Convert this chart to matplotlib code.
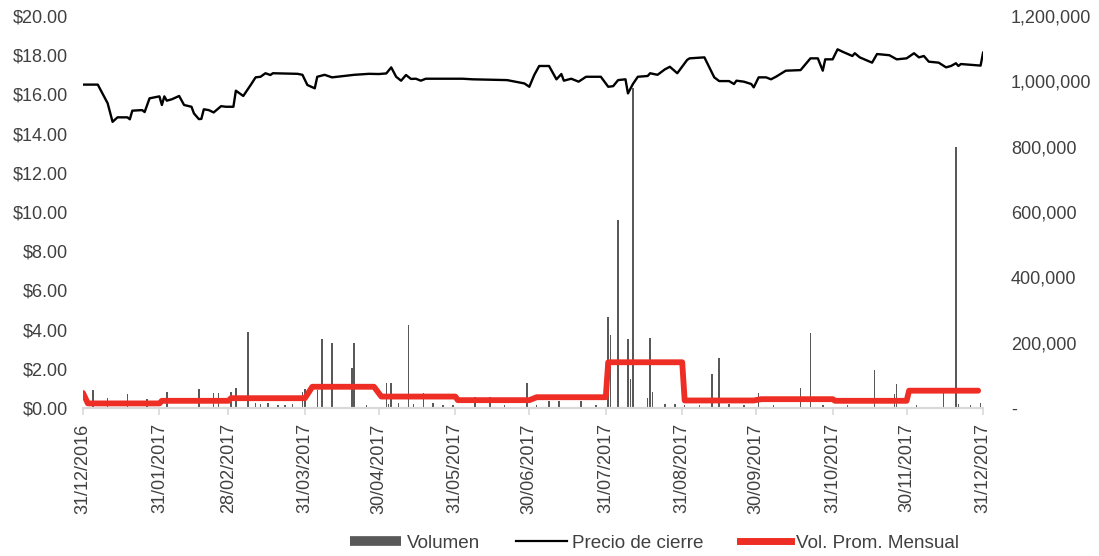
import matplotlib
matplotlib.use("Agg")
import matplotlib.pyplot as plt
import matplotlib.dates as mdates
from matplotlib.lines import Line2D
from matplotlib.ticker import FuncFormatter
import pandas as pd

plt.rcParams['font.family'] = ['Liberation Sans', 'DejaVu Sans']
plt.rcParams['font.size'] = 13

TEXT = '#404040'
AXIS_GREY = '#d9d9d9'
BAR_GREY = '#595959'
RED = '#ee2e24'

START = pd.Timestamp('2016-12-31')

# closing price, vertices of the line (days since 31/12/2016)
price_day = [0, 6, 10, 12, 14, 18, 19, 20, 24, 25, 27, 31, 32, 33, 34, 36, 39, 41,
             44, 45, 47, 48, 49, 51, 53, 56, 58, 61, 62, 65, 68, 70, 72, 74, 76, 77,
             87, 89, 91, 94, 95, 98, 101, 110, 116, 120, 123, 125, 127, 129, 131,
             133, 135, 137, 139, 154, 158, 172, 179, 181, 183, 185, 189, 192, 194,
             195, 198, 201, 204, 210, 213, 215, 217, 220, 221, 223, 225, 229, 230,
             233, 236, 238, 241, 245, 246, 252, 256, 258, 262, 264, 265, 268, 271,
             272, 274, 277, 279, 281, 285, 291, 295, 298, 300, 301, 304, 306, 308,
             312, 313, 315, 320, 322, 327, 330, 334, 337, 339, 341, 343, 347, 350,
             352, 354, 355, 356, 364, 365]
price = [16.50, 16.50, 15.55, 14.60, 14.83, 14.83, 14.73, 15.17, 15.20, 15.10, 15.80,
         15.90, 15.46, 15.90, 15.68, 15.75, 15.92, 15.46, 15.37, 15.03, 14.74, 14.75,
         15.24, 15.20, 15.08, 15.40, 15.37, 15.37, 16.19, 15.92, 16.48, 16.87, 16.90,
         17.08, 16.99, 17.08, 17.05, 17.00, 16.48, 16.31, 16.90, 17.00, 16.87, 17.00,
         17.05, 17.04, 17.07, 17.38, 16.90, 16.70, 16.99, 16.79, 16.80, 16.70, 16.80,
         16.80, 16.77, 16.73, 16.56, 16.39, 16.99, 17.45, 17.45, 16.77, 17.04, 16.70,
         16.80, 16.65, 16.90, 16.90, 16.39, 16.42, 16.73, 16.77, 16.05, 16.53, 16.90,
         16.94, 17.08, 17.00, 17.28, 17.41, 17.08, 17.76, 17.84, 17.89, 16.87, 16.68,
         16.68, 16.53, 16.70, 16.65, 16.53, 16.36, 16.87, 16.87, 16.77, 16.90, 17.21,
         17.24, 17.84, 17.84, 17.21, 17.79, 17.79, 18.30, 18.18, 17.96, 18.10, 17.89,
         17.62, 18.06, 18.00, 17.79, 17.84, 18.10, 17.89, 17.96, 17.67, 17.62, 17.38,
         17.45, 17.59, 17.45, 17.55, 17.47, 18.13]

# daily traded volume (days since 31/12/2016)
vol_day = [4, 10, 18, 26, 34, 47, 53, 55, 60, 62, 67, 70, 72, 75, 79, 82, 85, 89, 90,
           95, 97, 101, 109, 110, 115, 123, 124, 125, 128, 132, 134, 138, 142, 146,
           150, 159, 165, 171, 180, 184, 189, 193, 202, 208, 213, 214, 217, 221, 222,
           223, 229, 230, 231, 236, 240, 244, 250, 255, 258, 262, 268, 274, 280, 291,
           295, 300, 310, 321, 329, 330, 338, 349, 354, 355, 360, 364]
volume = [55000, 30000, 42000, 27000, 50000, 57000, 47000, 47000, 50000, 60000,
          233000, 15000, 12000, 14000, 10000, 8000, 12000, 50000, 57000, 55000,
          210000, 198000, 121000, 198000, 8000, 75000, 12000, 78000, 15000, 254000,
          12000, 45000, 15000, 10000, 8000, 35000, 35000, 8000, 77000, 10000, 20000,
          20000, 20000, 8000, 278000, 223000, 575000, 210000, 88000, 980000, 30000,
          213000, 50000, 12000, 12000, 10000, 8000, 104000, 152000, 12000, 8000,
          45000, 10000, 60000, 230000, 8000, 10000, 116000, 43000, 73000, 10000,
          45000, 800000, 12000, 8000, 15000]

# monthly average volume: Dec-2016, then Jan..Dec 2017
avg_dec_2016 = 46000
avg_monthly = [14000, 22000, 30000, 65000, 35000, 24000, 33000, 140000,
               23000, 27000, 22000, 53000]

price_dates = START + pd.to_timedelta(price_day, unit='D')
vol_dates = START + pd.to_timedelta(vol_day, unit='D')

month_start = pd.date_range('2017-01-01', periods=12, freq='BMS')
month_end = pd.date_range('2017-01-01', periods=12, freq='BME')
avg_x = [START]
avg_y = [avg_dec_2016]
for s, e, v in zip(month_start, month_end, avg_monthly):
    avg_x += [s, e]
    avg_y += [v, v]

fig = plt.figure(figsize=(10.99, 5.56), dpi=100)
ax = fig.add_axes([0.0755, 0.2662, 0.819, 0.705])
axv = ax.twinx()
ax.set_zorder(axv.get_zorder() + 1)
ax.patch.set_visible(False)

axv.bar(vol_dates, volume, width=0.6, color=BAR_GREY, zorder=1)
axv.plot(avg_x, avg_y, color=RED, lw=4.2, solid_capstyle='round',
         solid_joinstyle='round', zorder=2)
ax.plot(price_dates, price, color='black', lw=1.7, zorder=3)

ax.set_xlim(START, pd.Timestamp('2017-12-31'))
ax.set_ylim(0, 20)
axv.set_ylim(0, 1200000)

ax.set_yticks(range(0, 21, 2))
ax.yaxis.set_major_formatter(FuncFormatter(lambda v, p: f'${v:.2f}'))
axv.set_yticks(range(0, 1200001, 200000))
axv.yaxis.set_major_formatter(
    FuncFormatter(lambda v, p: '-' if v == 0 else f'{int(v):,}'))

tick_dates = [START] + list(pd.date_range('2017-01-01', periods=12, freq='ME'))
ax.set_xticks(tick_dates)
ax.xaxis.set_major_formatter(mdates.DateFormatter('%d/%m/%Y'))
ax.tick_params(axis='x', rotation=90, colors=AXIS_GREY, labelcolor=TEXT,
               length=5, width=1.2, pad=6, labelsize=13)
ax.tick_params(axis='y', length=0, pad=11, labelcolor=TEXT, labelsize=13)
axv.tick_params(axis='y', length=0, pad=20, labelcolor=TEXT, labelsize=13)

for a in (ax, axv):
    for side in ('top', 'left', 'right'):
        a.spines[side].set_visible(False)
    a.spines['bottom'].set_color(AXIS_GREY)
    a.spines['bottom'].set_linewidth(1.5)

handles = [Line2D([], [], color=BAR_GREY, lw=7, solid_capstyle='butt'),
           Line2D([], [], color='black', lw=1.6),
           Line2D([], [], color=RED, lw=5)]
labels = ['Volumen', 'Precio de cierre', 'Vol. Prom. Mensual']
fig.legend(handles, labels, loc='center', bbox_to_anchor=(0.5956, 0.0234),
           ncol=3, frameon=False, handlelength=2.7, handletextpad=0.3,
           columnspacing=1.9, fontsize=13.6, labelcolor=TEXT)

fig.savefig('out.png', dpi=100)
